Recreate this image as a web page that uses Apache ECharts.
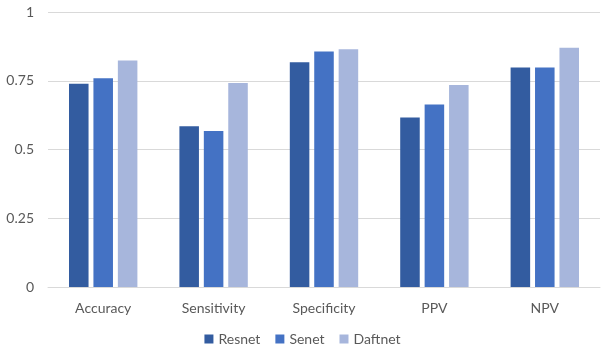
<!DOCTYPE html>
<html>
<head>
    <meta charset="UTF-8">
    <title>Model metrics</title>
    <script src="https://cdn.jsdelivr.net/npm/echarts@6/dist/echarts.min.js"></script>
    <style>
        html, body { margin: 0; padding: 0; background: #fff; }
    </style>
</head>
<body>
    <div id="main" style="width: 605px; height: 353px;"></div>
    <script>
        // metric names along the x axis
        var categories = ['Accuracy', 'Sensitivity', 'Specificity', 'PPV', 'NPV'];
        var seriesNames = ['Resnet', 'Senet', 'Daftnet'];

        // values
        var resnet = [0.739, 0.585, 0.817, 0.616, 0.798];
        var senet = [0.759, 0.567, 0.856, 0.664, 0.798];
        var daftnet = [0.824, 0.742, 0.865, 0.735, 0.870];

        var colors = ['#335ca0', '#4472c4', '#a7b6dc'];
        var textFont = 'Lato';

        var myChart = echarts.init(document.getElementById('main'));

        function makeSeries(name, data, color) {
            return {
                name: name,
                type: 'bar',
                data: data,
                barWidth: '17.7%',
                barGap: '25%',
                itemStyle: { color: color }
            };
        }

        var option = {
            animation: false,
            color: colors,
            grid: {
                left: 48,
                right: 5,
                top: 12,
                bottom: 66
            },
            legend: {
                data: seriesNames,
                bottom: 2,
                left: 'center',
                itemWidth: 9,
                itemHeight: 9,
                itemGap: 15,
                icon: 'rect',
                textStyle: { color: '#595959', fontSize: 14, fontFamily: textFont }
            },
            xAxis: {
                type: 'category',
                data: categories,
                axisTick: { show: false },
                axisLine: { lineStyle: { color: '#d9d9d9' } },
                axisLabel: {
                    color: '#595959',
                    fontSize: 14,
                    fontFamily: textFont,
                    margin: 14
                }
            },
            yAxis: {
                type: 'value',
                min: 0,
                max: 1,
                interval: 0.25,
                axisLine: { show: false },
                axisTick: { show: false },
                splitLine: { lineStyle: { color: '#d9d9d9' } },
                axisLabel: {
                    color: '#595959',
                    fontSize: 14,
                    fontFamily: textFont,
                    margin: 14
                }
            },
            series: [
                makeSeries(seriesNames[0], resnet, colors[0]),
                makeSeries(seriesNames[1], senet, colors[1]),
                makeSeries(seriesNames[2], daftnet, colors[2])
            ]
        };
        myChart.setOption(option);
    </script>
</body>
</html>
